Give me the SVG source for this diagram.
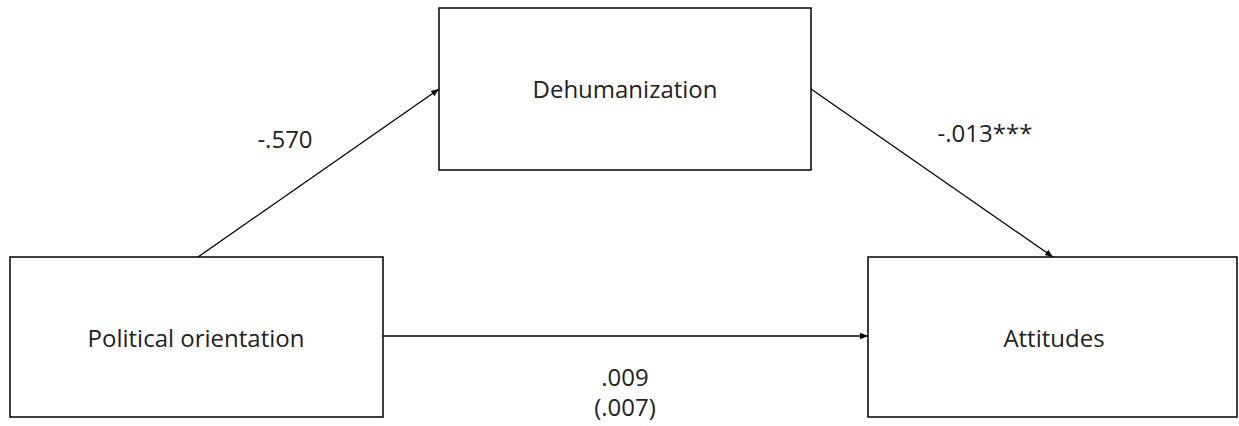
<svg xmlns="http://www.w3.org/2000/svg" width="1239" height="426" viewBox="0 0 1239 426">
<style>
.box{fill:#fff;stroke:#000;stroke-width:1.5}
.lbl{font-family:"Open Sans","Noto Sans",sans-serif;font-size:24px;fill:#222;text-anchor:middle}
.edge{stroke:#000;stroke-width:1.3;fill:none;marker-end:url(#ah)}
</style>
<defs>
<marker id="ah" viewBox="0 0 10 10" refX="10" refY="5" markerWidth="8" markerHeight="8" markerUnits="userSpaceOnUse" orient="auto">
<path d="M0,1 L10,5 L0,9 z" fill="#000"/>
</marker>
</defs>
<rect width="1239" height="426" fill="#fff"/>
<g id="connectors">
<line class="edge" x1="198" y1="257" x2="439" y2="89"/>
<line class="edge" x1="811" y1="89" x2="1053" y2="257"/>
<line class="edge" x1="383" y1="336" x2="868" y2="336"/>
<text class="lbl" x="285" y="148">-.570</text>
<text class="lbl" x="985" y="142">-.013***</text>
<text class="lbl" x="625" y="386">.009</text>
<text class="lbl" x="625" y="416">(.007)</text>
</g>
<g id="dehumanization">
<rect class="box" x="439" y="8" width="372" height="162"/>
<text class="lbl" x="625" y="98">Dehumanization</text>
</g>
<g id="political-orientation">
<rect class="box" x="10" y="257" width="373" height="160"/>
<text class="lbl" x="196" y="347">Political orientation</text>
</g>
<g id="attitudes">
<rect class="box" x="868" y="257" width="369" height="160"/>
<text class="lbl" x="1054" y="347">Attitudes</text>
</g>
</svg>
